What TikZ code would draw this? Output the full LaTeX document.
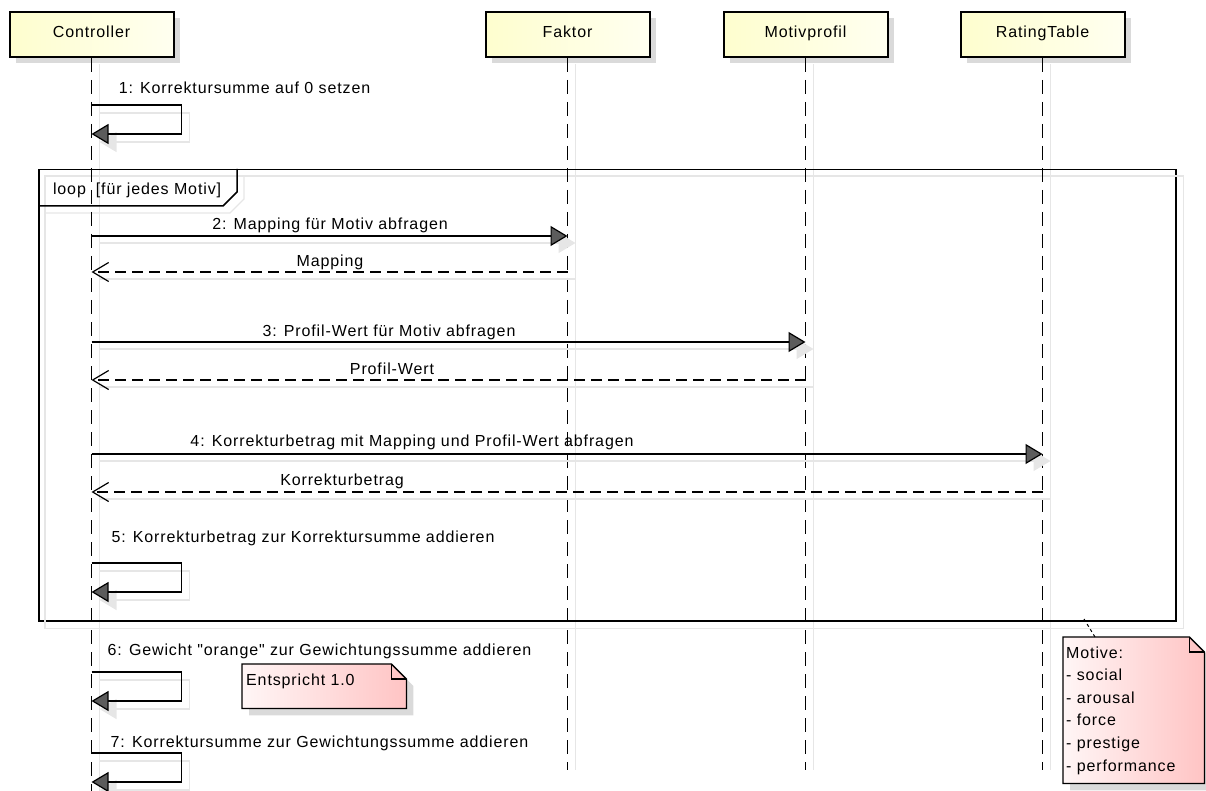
\documentclass[tikz,border=0pt]{standalone}
\usepackage{fontspec}
\setmainfont{Liberation Sans}[LetterSpace=5.5, Ligatures=TeXOff]
\usetikzlibrary{arrows.meta,calc,shadows}
\definecolor{partL}{HTML}{FEFECE}
\definecolor{partR}{HTML}{FFFFF0}
\definecolor{noteL}{HTML}{FFF6F6}
\definecolor{noteR}{HTML}{FFC4C4}
\definecolor{shadowc}{HTML}{DADADA}
\definecolor{lightsh}{HTML}{E6E6E6}
\definecolor{tipfill}{HTML}{5C5C5C}
\begin{document}
\begin{tikzpicture}[x=1pt,y=-1pt,
  font=\fontsize{16}{19}\selectfont,
  part/.style={draw=black, line width=2pt, left color=partL, right color=partR,
    minimum width=164pt, minimum height=45pt, inner sep=0pt,
    text height=11pt, text depth=4pt,
    drop shadow={shadow xshift=6pt, shadow yshift=-6pt, fill=shadowc, opacity=1}},
  lifeline/.style={draw=black, line width=1.4pt, dash pattern=on 14pt off 8pt},
  lshadow/.style={draw=lightsh, line width=1.2pt},
  msg/.style={draw=black, line width=1.2pt, -{Triangle[length=17pt,width=20pt,fill=tipfill]}},
  msgsh/.style={draw=lightsh, line width=1.2pt, -{Triangle[length=17pt,width=20pt,fill=lightsh]}},
  ret/.style={draw=black, line width=1.2pt, dash pattern=on 11pt off 6pt, -{Straight Barb[length=16pt,width=19pt]}},
  retsh/.style={draw=lightsh, line width=1.2pt},
  lbl/.style={inner sep=0pt, anchor=base},
  framebox/.style={draw=black, line width=1.5pt, inner sep=0pt},
  notefill/.style={draw=black, line width=1.3pt, left color=noteL, right color=noteR},
  noteshadow/.style={fill=shadowc},
]
\useasboundingbox (0,0) rectangle (1206,791);

% row positions of the messages
\coordinate (r1) at (0,105);
\coordinate (r2) at (0,236);
\coordinate (r2b) at (0,272);
\coordinate (r3) at (0,342);
\coordinate (r3b) at (0,380);
\coordinate (r4) at (0,454);
\coordinate (r4b) at (0,492);
\coordinate (r5) at (0,563);
\coordinate (r6) at (0,672);
\coordinate (r7) at (0,753);

% participants
\node[part] (ctrl) at (91.5,34.5) {Controller};
\node[part] (fak) at (567.5,34.5) {Faktor};
\node[part] (mot) at (805.5,34.5) {Motivprofil};
\node[part] (rat) at (1042.5,34.5) {RatingTable};

\coordinate (ctrlEnd) at (91.5,791);
\coordinate (fakEnd) at (567.5,770);
\coordinate (motEnd) at (805.5,770);
\coordinate (ratEnd) at (1042.5,770);

% lifeline shadows
\foreach \p in {ctrl,fak,mot,rat}
  \draw[lshadow] ($(\p.south)+(8,6)$) -- ($(\p End)+(8,0)$);

% loop frame
\node[framebox, minimum width=1137pt, minimum height=451pt, anchor=north west] (loopbox) at (38,169) {};
\draw[lightsh, line width=1.2pt] ($(loopbox.north west)+(7,7)$) rectangle ($(loopbox.south east)+(7,7)$);
\draw[lightsh, line width=1.2pt] ($(loopbox.north west)+(7,44)$) -- ++(185,0) -- ++(14,-14) -- ++(0,-23);
\draw[framebox] ($(loopbox.north west)+(0,37)$) coordinate (tabA) -- ++(185,0) -- ++(14,-14) -- (loopbox.north west -| 237,0);
\node[lbl] (looptxt) at (69.5,195) {loop};
\node[lbl] (loopcond) at (158.5,195) {[für jedes Motiv]};

% lifelines
\foreach \p in {ctrl,fak,mot,rat}
  \draw[lifeline] (\p.south) -- (\p End);

% 1: self message
\draw[msgsh] ($(ctrl |- r1)+(8,8)$) -- ++(90,0) -- ++(0,29) -- ++(-90,0);
\draw[msg] (ctrl |- r1) -- ++(90,0) -- ++(0,29) -- ++(-90,0);
\node[lbl] (t1) at (244.5,93.5) {1: Korrektursumme auf 0 setzen};

% 2: Faktor
\draw[msgsh] ($(ctrl |- r2)+(8,7)$) -- ($(fak |- r2)+(8,7)$);
\draw[msg] (ctrl |- r2) -- (fak |- r2);
\node[lbl] (t2) at (330,230) {2: Mapping für Motiv abfragen};
\draw[retsh] ($(fak |- r2b)+(8,7)$) -- ($(ctrl |- r2b)+(8,7)$);
\draw[ret] (fak |- r2b) -- (ctrl |- r2b);
\node[lbl] (t2b) at (330,267) {Mapping};

% 3: Motivprofil
\draw[msgsh] ($(ctrl |- r3)+(8,7)$) -- ($(mot |- r3)+(8,7)$);
\draw[msg] (ctrl |- r3) -- (mot |- r3);
\node[lbl] (t3) at (389,336.7) {3: Profil-Wert für Motiv abfragen};
\draw[retsh] ($(mot |- r3b)+(8,7)$) -- ($(ctrl |- r3b)+(8,7)$);
\draw[ret] (mot |- r3b) -- (ctrl |- r3b);
\node[lbl] (t3b) at (392,374) {Profil-Wert};

% 4: RatingTable
\draw[msgsh] ($(ctrl |- r4)+(8,7)$) -- ($(rat |- r4)+(8,7)$);
\draw[msg] (ctrl |- r4) -- (rat |- r4);
\node[lbl] (t4) at (412,446.7) {4: Korrekturbetrag mit Mapping und Profil-Wert abfragen};
\draw[retsh] ($(rat |- r4b)+(8,7)$) -- ($(ctrl |- r4b)+(8,7)$);
\draw[ret] (rat |- r4b) -- (ctrl |- r4b);
\node[lbl] (t4b) at (342,485) {Korrekturbetrag};

% 5: self message
\node[lbl] (t5) at (303,542) {5: Korrekturbetrag zur Korrektursumme addieren};
\draw[msgsh] ($(ctrl |- r5)+(8,8)$) -- ++(90,0) -- ++(0,29) -- ++(-90,0);
\draw[msg] (ctrl |- r5) -- ++(90,0) -- ++(0,29) -- ++(-90,0);

% 6: self message
\node[lbl] (t6) at (319.5,655.7) {6: Gewicht "orange" zur Gewichtungssumme addieren};
\draw[msgsh] ($(ctrl |- r6)+(8,8)$) -- ++(90,0) -- ++(0,29) -- ++(-90,0);
\draw[msg] (ctrl |- r6) -- ++(90,0) -- ++(0,29) -- ++(-90,0);

% 7: self message
\node[lbl] (t7) at (319.5,747) {7: Korrektursumme zur Gewichtungssumme addieren};
\draw[msgsh] ($(ctrl |- r7)+(8,8)$) -- ++(90,0) -- ++(0,29) -- ++(-90,0);
\draw[msg] (ctrl |- r7) -- ++(90,0) -- ++(0,29) -- ++(-90,0);

% note on message 6
\node[anchor=north west, minimum width=164pt, minimum height=44pt, inner sep=0pt] (enote) at (242,664) {};
\fill[noteshadow] ($(enote.north west)+(7,7)$) -- ($(enote.north east)+(-8,7)$) -- ($(enote.north east)+(7,22)$) -- ($(enote.south east)+(7,7)$) -- ($(enote.south west)+(7,7)$) -- cycle;
\path[notefill] (enote.north west) -- ($(enote.north east)+(-15,0)$) -- ($(enote.north east)+(0,15)$) -- (enote.south east) -- (enote.south west) -- cycle;
\draw[line width=1.3pt] ($(enote.north east)+(-15,0)$) -- ($(enote.north east)+(-15,15)$) -- ($(enote.north east)+(0,15)$);
\node[inner sep=0pt, anchor=base west] (etext) at (246,685) {Entspricht 1.0};

% note on the loop
\node[anchor=north west, minimum width=141pt, minimum height=146pt, inner sep=0pt] (mnote) at (1063,637) {};
\fill[noteshadow] ($(mnote.north west)+(7,7)$) -- ($(mnote.north east)+(-8,7)$) -- ($(mnote.north east)+(7,22)$) -- ($(mnote.south east)+(7,7)$) -- ($(mnote.south west)+(7,7)$) -- cycle;
\path[notefill] (mnote.north west) -- ($(mnote.north east)+(-15,0)$) -- ($(mnote.north east)+(0,15)$) -- (mnote.south east) -- (mnote.south west) -- cycle;
\draw[line width=1.3pt] ($(mnote.north east)+(-15,0)$) -- ($(mnote.north east)+(-15,15)$) -- ($(mnote.north east)+(0,15)$);
\foreach \t [count=\i from 0] in {Motive:,- social,- arousal,- force,- prestige,- performance}
  \node[inner sep=0pt, anchor=base west] (mline\i) at (1066,658+22.6*\i) {\t};
\coordinate (nc) at (1084,619);
\draw[dashed, line width=1pt] (nc) -- ($(mnote.north west)+(32,0)$);
\end{tikzpicture}
\end{document}
